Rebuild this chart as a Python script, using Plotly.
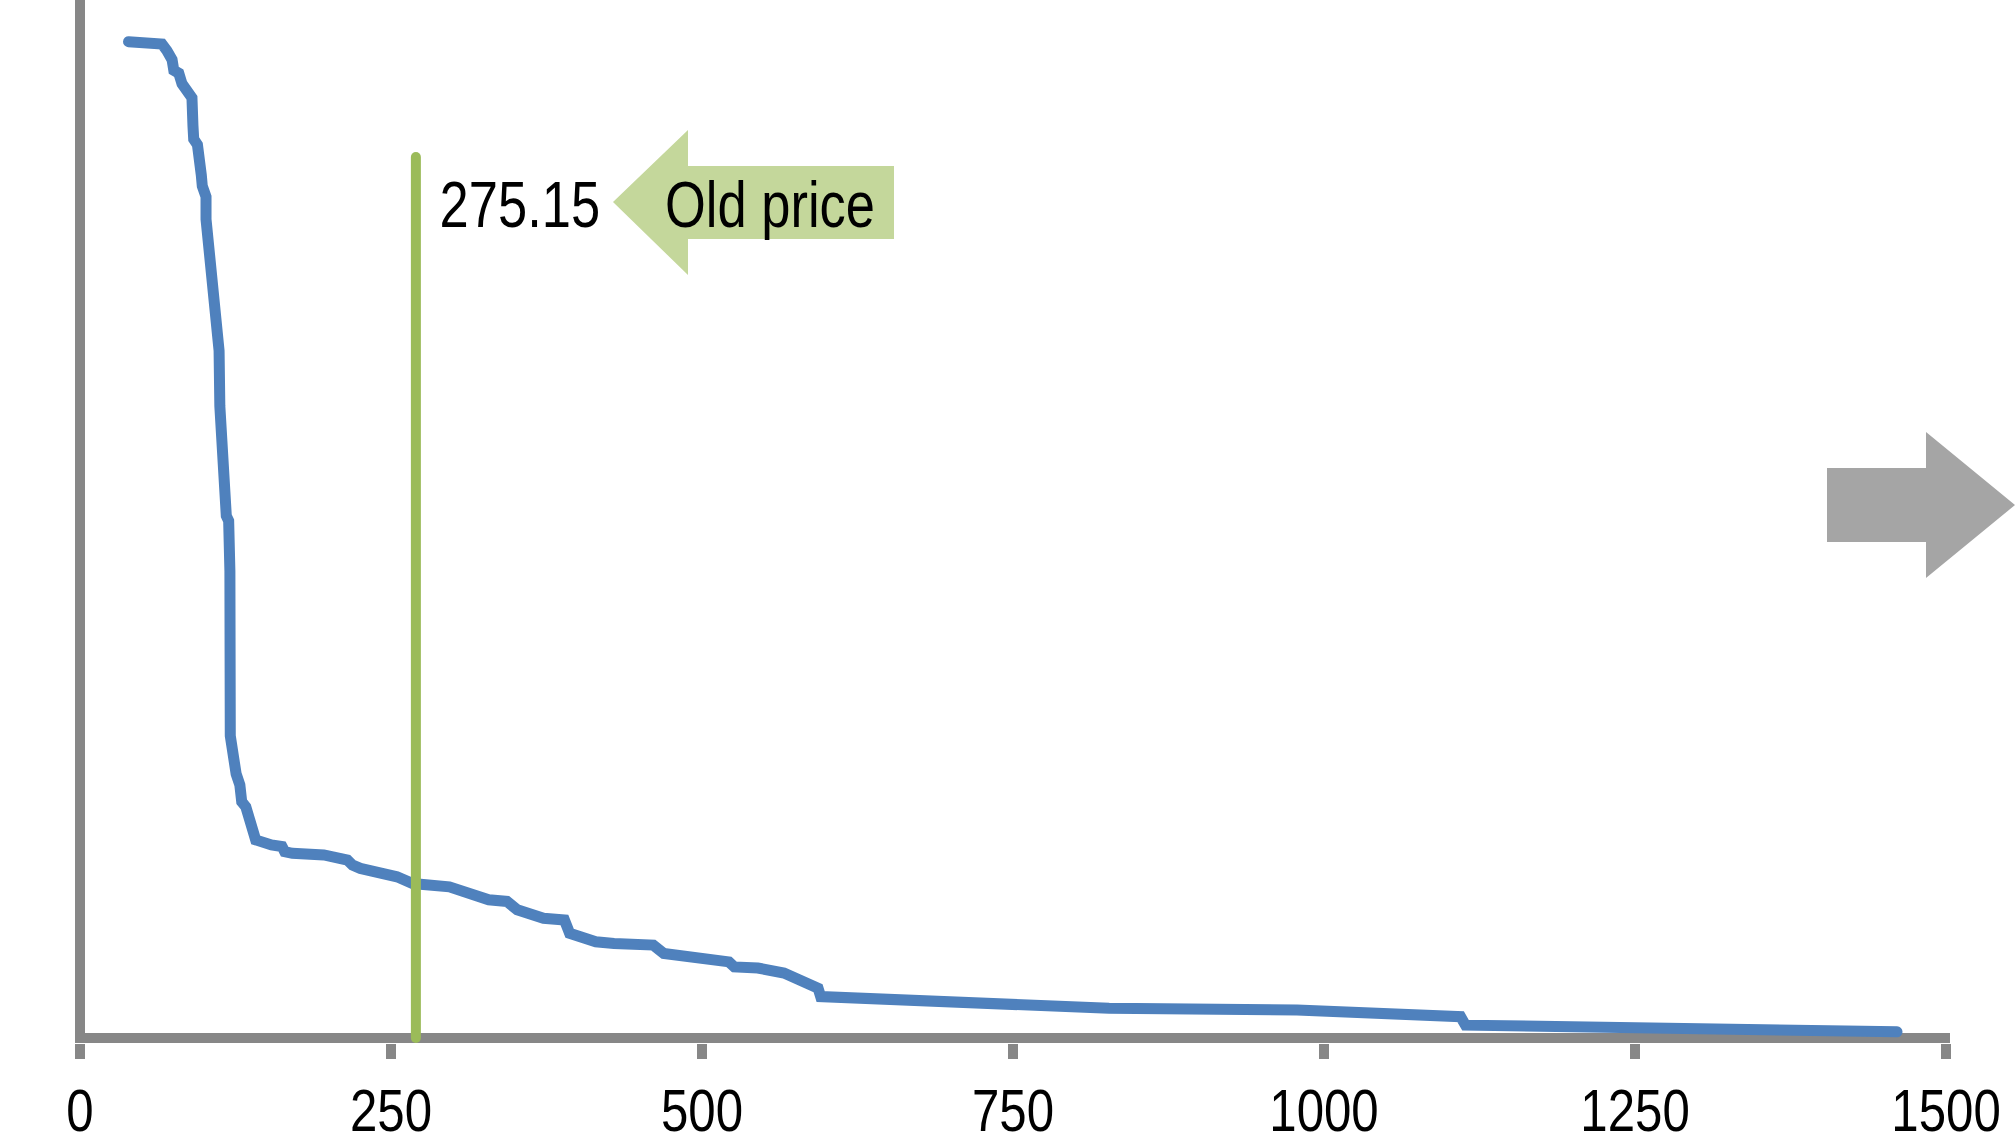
import plotly.graph_objects as go

# ---------------- data ----------------
quantity = [39.0, 65.9, 69.9, 74.0, 75.4, 79.4, 82.0, 86.0, 90.0, 90.8,
            91.4, 94.4, 95.1, 97.5, 98.3, 101.3, 101.3, 102.3, 104.0, 106.3,
            107.9, 109.3, 110.5, 111.8, 112.4, 113.2, 114.5, 115.8, 117.6, 119.5,
            120.5, 120.8, 123.0, 125.5, 128.5, 130.0, 133.3, 136.5, 139.2, 141.2,
            153.9, 162.4, 164.5, 170.7, 196.0, 204.4, 215.0, 219.1, 225.4, 254.8,
            267.4, 296.9, 317.9, 328.5, 343.2, 351.5, 372.6, 389.4, 393.6, 414.6,
            429.3, 460.9, 469.3, 521.7, 526.0, 544.9, 565.9, 576.5, 593.3, 595.4,
            827.2, 978.3, 1109.8, 1113.7, 1246.0, 1460.6]
price = [1780, 1776, 1764, 1748, 1729, 1724, 1705, 1689, 1680, 1630,
         1606, 1596, 1557, 1542, 1522, 1503, 1463, 1435, 1385, 1376,
         1306, 1258, 1238, 1228, 1129, 1090, 1002, 987, 933, 924,
         834, 540, 491, 472, 452, 422, 413, 393, 373, 354,
         345, 342, 333, 330, 327, 321, 318, 309, 303, 288,
         276, 270, 256, 247, 244, 229, 214, 211, 187, 172,
         169, 166, 151, 136, 127, 125, 116, 104, 89, 74,
         53, 50, 38, 23, 17, 11]

old_price_quantity = [270, 270]
old_price_line = [0, 1574]
old_price_label = "275.15"
arrow_label = "Old price"

tick_values = [0, 250, 500, 750, 1000, 1250, 1500]
tick_labels = ["0", "250", "500", "750", "1000", "1250", "1500"]

# ---------------- layout geometry ----------------
W, H = 2016, 1145
ML, MR, MT, MB = 75, 66, 0, 102
PW, PH = W - ML - MR, H - MT - MB

def px(x):  # pixel -> paper x
    return (x - ML) / PW

def py(y):  # pixel -> paper y
    return (H - MB - y) / PH

FONT = "Liberation Sans, Arial, sans-serif"
AXIS_GRAY = "#878787"

fig = go.Figure()
fig.add_trace(go.Scatter(x=quantity, y=price, mode="lines",
                         line=dict(color="#4F81BD", width=11),
                         hoverinfo="skip", showlegend=False))
fig.add_trace(go.Scatter(x=old_price_quantity, y=old_price_line, mode="lines",
                         line=dict(color="#9BBB59", width=10),
                         hoverinfo="skip", showlegend=False))

def path(points):
    return "M " + " L ".join(f"{px(a):.5f},{py(b):.5f}" for a, b in points) + " Z"

green_arrow = [(613, 202), (688, 130), (688, 166), (894, 166), (894, 239), (688, 239), (688, 275)]
gray_arrow = [(1827, 468), (1926, 468), (1926, 432), (2015, 505), (1926, 578), (1926, 542), (1827, 542)]

fig.update_layout(
    shapes=[
        dict(type="path", xref="paper", yref="paper", path=path(green_arrow),
             fillcolor="#C4D79B", line=dict(width=0), layer="above"),
        dict(type="path", xref="paper", yref="paper", path=path(gray_arrow),
             fillcolor="#A5A5A5", line=dict(width=0), layer="above"),
    ],
    annotations=[
        dict(text=old_price_label, xref="paper", yref="paper", x=px(520), y=py(205),
             xanchor="center", yanchor="middle", showarrow=False,
             font=dict(family=FONT, size=64, color="black")),
        dict(text=arrow_label, xref="paper", yref="paper", x=px(770), y=py(205),
             xanchor="center", yanchor="middle", showarrow=False,
             font=dict(family=FONT, size=64, color="black")),
    ],
)

fig.update_layout(
    width=W, height=H, autosize=False,
    margin=dict(l=ML, r=MR, t=MT, b=MB, pad=0),
    paper_bgcolor="white", plot_bgcolor="white",
    showlegend=False,
    xaxis=dict(range=[-4.02, 1503.2], showline=False, showgrid=False,
               zeroline=True, zerolinecolor=AXIS_GRAY, zerolinewidth=10,
               ticks="outside", ticklen=15, tickwidth=10, tickcolor=AXIS_GRAY,
               tickmode="array", tickvals=tick_values, ticktext=tick_labels,
               tickfont=dict(family=FONT, size=60, color="black")),
    yaxis=dict(range=[-8.93, 1854.6], showline=False, showgrid=False,
               zeroline=True, zerolinecolor=AXIS_GRAY, zerolinewidth=10,
               showticklabels=False, ticks=""),
)

# Narrow (Arial-Narrow-like) text: squeeze the real text horizontally,
# remove the page margin, round the line caps.
post_js = """
document.body.style.margin = '0';
var gd = document.getElementById('{plot_id}');
function squeeze() {
  var sx = 0.82;
  gd.querySelectorAll('.xtick text').forEach(function (t) {
    var tr = t.getAttribute('transform') || '';
    if (tr.indexOf('scale(') === -1) {
      t.setAttribute('transform', tr + ' scale(' + sx + ',1)');
    }
  });
  gd.querySelectorAll('.annotation-text').forEach(function (t) {
    var x = parseFloat(t.getAttribute('x')) || 0;
    t.setAttribute('transform', 'translate(' + x + ',0) scale(' + sx + ',1) translate(' + (-x) + ',0)');
  });
  gd.querySelectorAll('.scatterlayer path.js-line').forEach(function (p) {
    p.style.strokeLinecap = 'round';
  });
}
squeeze();
gd.on('plotly_afterplot', squeeze);
"""

fig.write_html("out.html", post_script=post_js, config={"displayModeBar": False})
